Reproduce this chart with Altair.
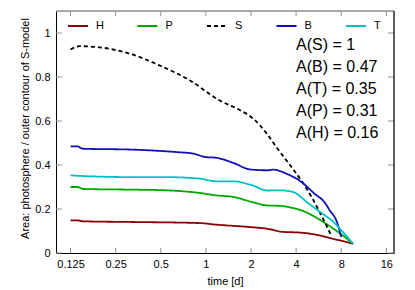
import altair as alt
import pandas as pd

# ---- data ----
t_H = [0.125, 0.139, 0.152, 0.32, 0.91, 1.17, 1.96, 2.58, 3.26, 4.2, 4.7, 5.74, 7.04, 9.6]
v_H = [0.148, 0.148, 0.144, 0.141, 0.136, 0.129, 0.118, 0.11, 0.096, 0.093, 0.09, 0.08, 0.065, 0.042]

t_P = [0.125, 0.139, 0.152, 0.32, 0.54, 0.91, 1.17, 1.52, 2.03, 2.58, 3.2, 3.6, 4.34, 5.6, 7.1, 8.3, 9.6]
v_P = [0.30, 0.30, 0.291, 0.288, 0.285, 0.273, 0.262, 0.255, 0.232, 0.216, 0.214, 0.208, 0.194, 0.156, 0.11, 0.077, 0.042]

t_S = [0.125, 0.144, 0.195, 0.31, 0.49, 0.78, 1.23, 1.68, 2.06, 2.54, 2.95, 3.79, 4.33, 5.15, 6.2, 6.8]
v_S = [0.925, 0.94, 0.935, 0.906, 0.853, 0.785, 0.694, 0.65, 0.612, 0.544, 0.482, 0.384, 0.33, 0.247, 0.141, 0.085]

t_B = [0.125, 0.139, 0.15, 0.32, 0.63, 0.82, 1.0, 1.17, 1.52, 1.97, 2.58, 2.8, 3.46, 4.34, 5.3, 6.2, 6.7, 7.5, 8.0]
v_B = [0.485, 0.485, 0.474, 0.47, 0.459, 0.452, 0.436, 0.433, 0.41, 0.38, 0.376, 0.379, 0.36, 0.323, 0.27, 0.23, 0.194, 0.14, 0.073]

t_T = [0.125, 0.15, 0.32, 0.54, 0.91, 1.17, 1.52, 2.03, 2.58, 3.1, 3.83, 4.7, 5.8, 7.1, 8.6, 9.6]
v_T = [0.353, 0.35, 0.345, 0.345, 0.338, 0.326, 0.326, 0.308, 0.284, 0.285, 0.277, 0.232, 0.186, 0.141, 0.08, 0.042]

series_names = ["H", "P", "S", "B", "T"]
series_colors = ["#8b0000", "#00a800", "#000000", "#1010b8", "#00c0c0"]
series_dash = [[1, 0], [1, 0], [4, 3], [1, 0], [1, 0]]

x_ticks = [0.125, 0.25, 0.5, 1, 2, 4, 8, 16]
y_ticks = [0, 0.2, 0.4, 0.6, 0.8, 1]

ann_labels = ["A(S) = 1", "A(B) = 0.47", "A(T) = 0.35", "A(P) = 0.31", "A(H) = 0.16"]
ann_t = [4.0, 4.0, 4.0, 4.0, 4.0]
ann_v = [0.947, 0.847, 0.747, 0.647, 0.547]

# ---- build table ----
rows = []
for name, ts, vs in [("H", t_H, v_H), ("P", t_P, v_P), ("S", t_S, v_S), ("B", t_B, v_B), ("T", t_T, v_T)]:
    for i, (t, v) in enumerate(zip(ts, vs)):
        rows.append({"series": name, "t": t, "v": v, "order": i})
df = pd.DataFrame(rows)

FONT = "Liberation Sans"
W, H = 338, 242
GREY = "#909090"

xscale = alt.Scale(type="log", base=2, domain=[0.1, 18], nice=False)
yscale = alt.Scale(domain=[0, 1.1], nice=False, zero=False)

xaxis = alt.Axis(values=x_ticks, format="~g", ticks=False, grid=False, labelPadding=5,
                 domainColor="black", labelFont=FONT, labelFontSize=11, labelColor="black",
                 title="time [d]", titleFont=FONT, titleFontSize=11, titleFontWeight="normal",
                 titleColor="black", titlePadding=6, labelFlush=False, labelOverlap=False)
yaxis = alt.Axis(values=y_ticks, format="~g", ticks=False, grid=False, labelPadding=6,
                 domainColor="black", labelFont=FONT, labelFontSize=11, labelColor="black",
                 title="Area: photosphere / outer contour of S-model", titleFont=FONT,
                 titleFontSize=11, titleFontWeight="normal", titleColor="black",
                 titleX=-26, titleY=H / 2 - 4, titleAngle=270, titleBaseline="bottom",
                 titleAlign="center", labelFlush=False, labelOverlap=False)

X = alt.X("t:Q", scale=xscale, axis=xaxis)
Y = alt.Y("v:Q", scale=yscale, axis=yaxis)

legend = alt.Legend(orient="none", legendX=11, legendY=4, direction="horizontal",
                    title=None, symbolType="stroke", symbolSize=400, symbolStrokeWidth=2,
                    labelFont=FONT, labelFontSize=11, labelColor="black", labelOffset=7,
                    columnPadding=29.5, padding=0, columns=5)

lines = alt.Chart(df).mark_line(strokeWidth=1.8, interpolate="monotone", clip=True).encode(
    x=X, y=Y,
    color=alt.Color("series:N", scale=alt.Scale(domain=series_names, range=series_colors), legend=legend),
    strokeDash=alt.StrokeDash("series:N", scale=alt.Scale(domain=series_names, range=series_dash), legend=legend),
    detail="series:N",
    order="order:Q",
)

xt = pd.DataFrame({"t": x_ticks})
yt = pd.DataFrame({"v": y_ticks})

xticks_bottom = alt.Chart(xt).mark_rule(color=GREY, strokeWidth=1).encode(
    x=X, y=alt.value(H), y2=alt.value(H - 5))
xticks_top = alt.Chart(xt).mark_rule(color=GREY, strokeWidth=1).encode(
    x=X, y=alt.value(0), y2=alt.value(5))
yticks_left = alt.Chart(yt).mark_rule(color=GREY, strokeWidth=1).encode(
    y=Y, x=alt.value(0), x2=alt.value(6))
yticks_right = alt.Chart(yt).mark_rule(color=GREY, strokeWidth=1).encode(
    y=Y, x=alt.value(W), x2=alt.value(W - 6))

one = pd.DataFrame({"a": [0]})
top_border = alt.Chart(one).mark_rule(color=GREY, strokeWidth=1.5).encode(
    x=alt.value(0), x2=alt.value(W), y=alt.value(0))
right_border = alt.Chart(one).mark_rule(color="black", strokeWidth=1.2).encode(
    x=alt.value(W), y=alt.value(0), y2=alt.value(H))

ann_df = pd.DataFrame({"t": ann_t, "v": ann_v, "label": ann_labels})
ann = alt.Chart(ann_df).mark_text(align="left", baseline="middle", font=FONT, fontSize=16,
                                  color="black").encode(x=X, y=Y, text="label:N")

chart = alt.layer(
    xticks_bottom, xticks_top, yticks_left, yticks_right, top_border, right_border, lines, ann
).properties(
    width=W, height=H,
    autosize=alt.AutoSizeParams(type="none"),
    padding={"left": 48, "top": 3, "right": 13, "bottom": 37},
).configure_view(stroke=None).configure(background="white")

chart.save("out.html", embed_options={"renderer": "svg", "actions": False})
